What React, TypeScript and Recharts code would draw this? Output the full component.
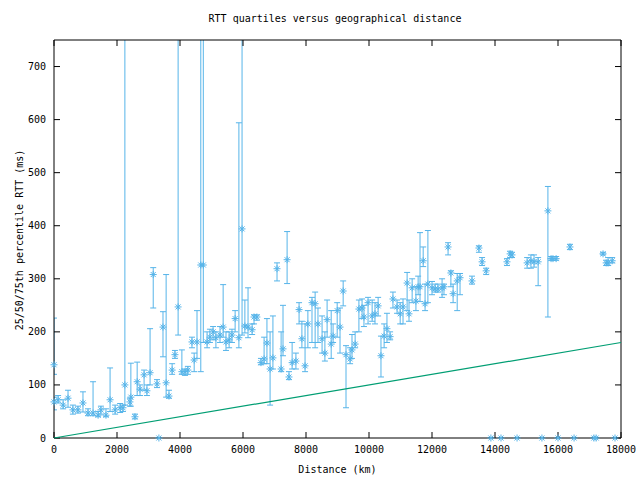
import { ScatterChart, Scatter, XAxis, YAxis, ErrorBar } from 'recharts';

// distance (km), median RTT and 25th / 75th percentile RTT (ms)
const distanceKm = [
  0, 0, 130, 290, 445, 600, 760, 920, 1080, 1240, 1400, 1490, 1650, 1780, 1940, 2100, 2190, 2250, 2410, 2440,
  2570, 2640, 2730, 2860, 2950, 3050, 3150, 3270, 3330, 3460, 3560, 3650, 3750, 3840, 3940, 4060, 4160, 4250, 4380, 4450,
  4540, 4660, 4740, 4860, 4950, 5050, 5140, 5270, 5370, 5460, 5560, 5650, 5750, 5870, 5970, 6060, 6160, 6290, 6350, 6440,
  6570, 6670, 6760, 6860, 6950, 7080, 7210, 7270, 7400, 7460, 7560, 7680, 7780, 7870, 7970, 8060, 8190, 8290, 8380, 8510,
  8600, 8670, 8800, 8860, 8990, 9080, 9180, 9270, 9400, 9460, 9560, 9680, 9780, 9840, 9970, 10100, 10190, 10290, 10380, 10480,
  10570, 10670, 10760, 10890, 10990, 11080, 11210, 11270, 11370, 11490, 11560, 11620, 11720, 11780, 11870, 12000, 12100, 12190, 12320, 12380,
  12510, 12600, 12670, 12800, 12890, 13270, 13490, 13590, 13720, 14380, 14480, 14540, 15020, 15140, 15240, 15370, 15680, 15780, 15840, 15940,
  16380, 17430, 17530, 17590, 17720, 13870, 14190, 14700, 15490, 16000, 16510, 17140, 17210, 17810,
];
const rttMedian = [
  138, 68, 72, 62, 75, 53, 53, 66, 47, 47, 43, 53, 43, 72, 53, 57, 57, 100, 68, 77,
  40, 106, 92, 119, 89, 123, 308, 102, 0, 209, 104, 79, 128, 157, 247, 125, 125, 128, 181, 147,
  181, 326, 326, 181, 190, 200, 189, 194, 209, 181, 185, 194, 225, 189, 394, 211, 209, 204, 228, 228,
  142, 149, 179, 130, 151, 319, 130, 168, 336, 115, 142, 145, 242, 187, 136, 215, 255, 253, 215, 187,
  160, 223, 177, 192, 240, 209, 277, 157, 149, 166, 177, 243, 245, 228, 255, 230, 234, 249, 155, 192,
  206, 191, 262, 247, 234, 247, 292, 234, 283, 258, 285, 285, 334, 253, 290, 283, 281, 281, 283, 285,
  360, 311, 272, 296, 302, 296, 358, 332, 315, 332, 347, 345, 330, 334, 332, 332, 428, 338, 338, 338,
  360, 347, 330, 330, 334, 0, 0, 0, 0, 0, 0, 0, 0, 0,
];
const rttP25 = [
  120, 53, 66, 55, 58, 45, 47, 49, 42, 42, 40, 45, 40, 50, 45, 48, 50, 62, 60, 60,
  36, 80, 80, 90, 80, 100, 245, 95, 0, 153, 77, 75, 120, 150, 194, 120, 118, 120, 170, 125,
  150, 125, 180, 170, 180, 185, 170, 180, 190, 165, 170, 180, 200, 170, 194, 198, 189, 195, 215, 222,
  138, 140, 140, 62, 130, 296, 125, 155, 291, 110, 130, 130, 215, 170, 125, 170, 180, 170, 180, 160,
  145, 190, 150, 180, 190, 160, 249, 57, 140, 150, 170, 200, 225, 210, 215, 220, 215, 230, 115, 170,
  180, 185, 245, 235, 215, 215, 240, 220, 255, 240, 270, 257, 323, 240, 255, 270, 275, 275, 265, 270,
  345, 285, 255, 240, 270, 290, 350, 325, 308, 325, 340, 340, 320, 320, 322, 287, 228, 335, 335, 335,
  355, 345, 325, 325, 330, 0, 0, 0, 0, 0, 0, 0, 0, 0,
];
const rttP75 = [
  226, 77, 80, 72, 90, 62, 60, 87, 55, 106, 50, 60, 55, 132, 62, 65, 62, 900, 75, 141,
  45, 143, 100, 128, 100, 206, 321, 110, 0, 238, 308, 90, 140, 165, 900, 166, 130, 135, 190, 160,
  240, 900, 900, 200, 205, 210, 200, 210, 289, 200, 200, 205, 240, 594, 900, 260, 283, 215, 232, 232,
  150, 190, 225, 200, 230, 330, 200, 250, 389, 125, 180, 160, 255, 220, 215, 240, 265, 275, 245, 230,
  200, 260, 240, 215, 255, 245, 296, 174, 170, 195, 200, 260, 262, 250, 265, 260, 255, 265, 192, 215,
  235, 200, 275, 260, 255, 262, 312, 260, 300, 285, 305, 387, 360, 290, 391, 295, 290, 290, 300, 290,
  368, 315, 290, 310, 310, 305, 362, 340, 320, 338, 352, 350, 340, 345, 345, 340, 474, 342, 342, 342,
  365, 350, 335, 340, 340, 0, 0, 0, 0, 0, 0, 0, 0, 0,
];

// propagation bound drawn as a straight line
const boundDistance = [0, 18000];
const boundRtt = [0, 180];

const xTicks = [0, 2000, 4000, 6000, 8000, 10000, 12000, 14000, 16000, 18000];
const yTicks = [0, 100, 200, 300, 400, 500, 600, 700];

const BLUE = '#56b4e9';
const GREEN = '#009e73';
const FONT = '"DejaVu Sans Mono", monospace';

const W = 640;
const H = 480;
const MARGIN = { top: 40, right: 19, bottom: 0, left: 0 };
const Y_AXIS_W = 54;
const X_AXIS_H = 42;

const points = distanceKm.map((d, i) => ({
  x: d,
  y: rttMedian[i],
  err: [rttMedian[i] - rttP25[i], rttP75[i] - rttMedian[i]],
}));

const boundLine = boundDistance.map((d, i) => ({ x: d, y: boundRtt[i] }));

const Star = (props: any) => {
  const { cx, cy } = props;
  const r = 3.5;
  const d = 2.5;
  return (
    <path
      d={`M${cx - r},${cy}H${cx + r}M${cx},${cy - r}V${cy + r}M${cx - d},${cy - d}L${cx + d},${cy + d}M${cx - d},${cy + d}L${cx + d},${cy - d}`}
      stroke={BLUE}
      strokeWidth={1}
      fill="none"
    />
  );
};

const NoDot = () => <g />;

const tickStyle = { fontSize: 10, fill: '#000', fontFamily: FONT };
const blank = () => '';

// error bars live in their own layer, so clip them to the plot area here;
// the stars themselves are drawn unclipped like gnuplot does
const plotLeft = MARGIN.left + Y_AXIS_W;
const plotTop = MARGIN.top;
const plotW = W - plotLeft - MARGIN.right;
const plotH = H - plotTop - MARGIN.bottom - X_AXIS_H;

export default function App() {
  return (
    <div style={{ position: 'absolute', left: 0, top: 0, width: W, height: H, background: '#fff', fontFamily: FONT }}>
      <style>
        {'.recharts-errorBars, .recharts-errorBar { clip-path: url(#plot-clip); } .recharts-scatter { clip-path: none; }'}
      </style>
      <svg width={0} height={0} style={{ position: 'absolute' }}>
        <defs>
          <clipPath id="plot-clip">
            <rect x={plotLeft} y={plotTop} width={plotW} height={plotH} />
          </clipPath>
        </defs>
      </svg>
      <div style={{ position: 'absolute', top: 12, left: 0, width: 670, textAlign: 'center', fontSize: 10, lineHeight: '14px' }}>
        RTT quartiles versus geographical distance
      </div>
      <div style={{ position: 'absolute', top: 463, left: 0, width: 675, textAlign: 'center', fontSize: 10, lineHeight: '14px' }}>
        Distance (km)
      </div>
      <div
        style={{
          position: 'absolute',
          left: 20,
          top: 240,
          fontSize: 10,
          lineHeight: '14px',
          whiteSpace: 'nowrap',
          transform: 'translate(-50%, -50%) rotate(-90deg)',
        }}
      >
        25/50/75th percentile RTT (ms)
      </div>
      <ScatterChart width={W} height={H} margin={MARGIN}>
        <XAxis
          type="number"
          dataKey="x"
          domain={[0, 18000]}
          ticks={xTicks}
          allowDataOverflow
          height={X_AXIS_H}
          tickLine={false}
          axisLine={{ stroke: '#000' }}
          tick={tickStyle}
        />
        <XAxis
          xAxisId="btm"
          type="number"
          dataKey="x"
          domain={[0, 18000]}
          ticks={xTicks}
          allowDataOverflow
          mirror
          axisLine={false}
          tickLine={{ stroke: '#000' }}
          tickSize={6}
          tickFormatter={blank}
        />
        <XAxis
          xAxisId="top"
          orientation="top"
          type="number"
          dataKey="x"
          domain={[0, 18000]}
          ticks={xTicks}
          allowDataOverflow
          mirror
          axisLine={{ stroke: '#000' }}
          tickLine={{ stroke: '#000' }}
          tickSize={6}
          tickFormatter={blank}
        />
        <YAxis
          type="number"
          dataKey="y"
          domain={[0, 750]}
          ticks={yTicks}
          allowDataOverflow
          width={Y_AXIS_W}
          tickLine={false}
          axisLine={{ stroke: '#000' }}
          tick={tickStyle}
        />
        <YAxis
          yAxisId="lft"
          type="number"
          dataKey="y"
          domain={[0, 750]}
          ticks={yTicks}
          allowDataOverflow
          mirror
          axisLine={false}
          tickLine={{ stroke: '#000' }}
          tickSize={6}
          tickFormatter={blank}
        />
        <YAxis
          yAxisId="rgt"
          orientation="right"
          type="number"
          dataKey="y"
          domain={[0, 750]}
          ticks={yTicks}
          allowDataOverflow
          mirror
          axisLine={{ stroke: '#000' }}
          tickLine={{ stroke: '#000' }}
          tickSize={6}
          tickFormatter={blank}
        />
        <Scatter data={points} shape={Star} isAnimationActive={false}>
          <ErrorBar dataKey="err" direction="y" width={3} stroke={BLUE} strokeWidth={1} isAnimationActive={false} />
        </Scatter>
        <Scatter
          data={boundLine}
          line={{ stroke: GREEN, strokeWidth: 1.2 }}
          shape={NoDot}
          isAnimationActive={false}
        />
      </ScatterChart>
    </div>
  );
}
